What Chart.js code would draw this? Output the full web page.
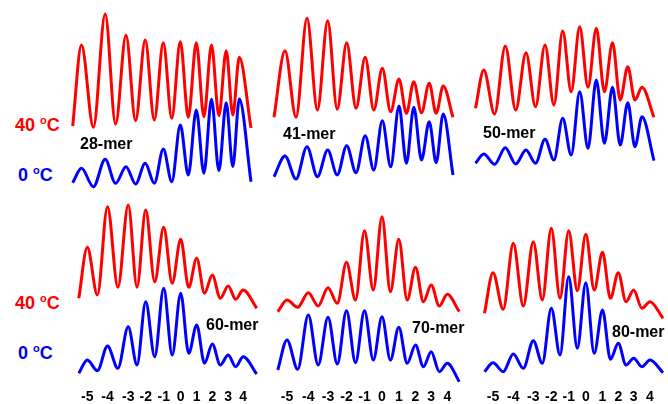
<!DOCTYPE html>
<html>
<head>
<meta charset="utf-8">
<script src="https://cdn.jsdelivr.net/npm/chart.js@4"></script>
<style>
  html, body { margin: 0; padding: 0; background: #fff; }
  body { width: 668px; height: 404px; position: relative; overflow: hidden;
         font-family: "Liberation Sans", Arial, sans-serif; font-weight: bold; }
  canvas { position: absolute; }
  .lab { position: absolute; white-space: nowrap; line-height: 1; transform: translateY(-50%); }
  .temp { font-size: 18px; }
  .mer { font-size: 16px; color: #000; }
  .red { color: #ff0000; }
  .blue { color: #0000ff; }
  .deg { font-size: 11px; position: relative; top: -7px; }
</style>
</head>
<body>
<canvas id="c28"></canvas>
<canvas id="c41"></canvas>
<canvas id="c50"></canvas>
<canvas id="c60"></canvas>
<canvas id="c70"></canvas>
<canvas id="c80"></canvas>

<div class="lab temp red" style="left:15px;top:125px">40 <span class="deg">o</span>C</div>
<div class="lab temp blue" style="left:18px;top:175px">0 <span class="deg">o</span>C</div>
<div class="lab temp red" style="left:15px;top:303px">40 <span class="deg">o</span>C</div>
<div class="lab temp blue" style="left:18px;top:353px">0 <span class="deg">o</span>C</div>
<div class="lab mer" style="left:80px;top:144px">28-mer</div>
<div class="lab mer" style="left:283px;top:134px">41-mer</div>
<div class="lab mer" style="left:483px;top:133px">50-mer</div>
<div class="lab mer" style="left:206px;top:325px">60-mer</div>
<div class="lab mer" style="left:412px;top:328px">70-mer</div>
<div class="lab mer" style="left:612px;top:332px">80-mer</div>

<script>
// Band index labels (peak positions)
const tickLabels = ['-5', '-4', '-3', '-2', '-1', '0', '1', '2', '3', '4'];

// Each trace: start, peak, valley, peak, ..., peak, end  (migration position / intensity)
// 28-mer
const x28    = [2.7, 11.5, 23.4, 35.2, 45.6, 56, 65.6, 75.2, 84.3, 93.3, 101.8, 110.3, 118.3, 126.3, 133.9, 141.5, 148.9, 156.2, 162.8, 169.3, 181];
const red28  = [66, 147, 64.7, 178, 68, 157, 71.3, 152, 72, 149.3, 73.7, 150.3, 74.7, 149.3, 75.3, 147, 76.3, 141.3, 77, 134.7, 64];
const blue28 = [9.3, 23.7, 5.3, 32.7, 8.7, 25.3, 8, 28.7, 8.7, 43, 10.3, 67, 17, 82, 18.7, 92.7, 21.3, 89.3, 25.3, 93, 10.3];
// 41-mer
const x41    = [6, 17, 28, 39, 49.4, 59.7, 69.2, 78.7, 88, 97.2, 105.8, 114.3, 122.7, 131, 138.4, 145.8, 153.5, 161.2, 168.2, 175.2, 185];
const red41  = [74.7, 141.3, 74.7, 173.7, 82, 171.3, 82.7, 149.3, 83.7, 134.7, 82, 123.7, 80.3, 113, 78.7, 110.3, 79.3, 108.7, 78.7, 106, 74.7];
const blue41 = [15.3, 36, 13, 45.3, 15.3, 42, 17, 46.3, 19.3, 56.3, 22, 71.3, 25.3, 86, 28.7, 84.7, 32, 70.3, 29.3, 78, 17];
// 50-mer
const x50    = [5.5, 13.8, 24.6, 35.3, 45.7, 56, 65.5, 75, 83.9, 92.7, 101.2, 109.7, 118, 126.3, 134.4, 142.5, 150.2, 157.8, 164.9, 172, 184];
const red50  = [83.7, 122, 78, 146, 82, 139.3, 85.3, 147, 87, 161, 100.3, 165.3, 104.7, 163.7, 100.3, 149.3, 92, 125.3, 92, 104.7, 74.7];
const blue50 = [28.7, 38, 27.7, 44.3, 28, 42, 28.7, 52.7, 32, 73.7, 37, 100.3, 43.7, 112, 48.7, 104.7, 47, 89.3, 45.3, 75.3, 31.3];
// 60-mer
const x60    = [8.8, 17.3, 27.4, 37.5, 47.9, 58.2, 67, 75.7, 84.7, 93.7, 102.2, 110.7, 118.7, 126.7, 134.5, 142.3, 150.3, 158.2, 165.7, 173.2, 186.7];
const red60  = [86.7, 137.7, 90, 178.3, 97.7, 180, 97.7, 175, 103.3, 157.7, 101.7, 145.7, 97.7, 126.7, 91.7, 110, 86.7, 99, 85.7, 95, 76.7];
const blue60 = [11.7, 25, 14.3, 39, 16.7, 58.3, 20, 83.3, 28.3, 96.7, 30, 91.7, 31.7, 60, 21.7, 41, 20, 30, 18.3, 28.3, 11];
// 70-mer
const x70    = [7.8, 17, 27.7, 38.3, 48.2, 58, 67.3, 76.5, 85.5, 94.5, 103.3, 112, 120.4, 128.8, 137.2, 145.5, 153.4, 161.2, 169.3, 177.3, 189.3];
const red70  = [73.3, 85, 77.7, 92.3, 79, 97.3, 81.7, 122.7, 85, 154.3, 95, 168.3, 93.3, 145.7, 85, 117.7, 83.3, 100, 79, 90.7, 73.3];
const blue70 = [15, 45, 15.7, 70, 20, 67.7, 21, 74.3, 22.3, 74.3, 25, 68.3, 25, 57.7, 21.7, 40, 18.3, 33.3, 13.3, 21.7, 3.3];
// 80-mer
const x80    = [6.5, 15, 25.2, 35.3, 45.3, 55.3, 64.3, 73.3, 82, 90.7, 99.3, 107.8, 116.2, 124.5, 132.4, 140.3, 148, 155.7, 163.9, 172, 185];
const red80  = [71.7, 112.3, 75.7, 141.7, 79, 143.3, 85, 156.7, 86.7, 154.3, 94.3, 150.7, 95, 132.7, 86.7, 112.3, 83.3, 95, 76.7, 83.3, 66.7];
const blue80 = [13.3, 22.3, 13.3, 31, 16.7, 44.3, 21.7, 76.7, 30, 108.3, 36.7, 102.3, 31.7, 75, 25.7, 41.7, 20, 26.7, 18.3, 25, 12.3];

const RED = '#ff0000', BLUE = '#0000ff';

function pts(xs, ys) { return xs.map((x, i) => ({ x: x, y: ys[i] })); }
function peaks(xs) { return xs.filter((v, i) => i % 2 === 1); }

function makePanel(id, left, top, w, h, xs, red, blue, showTicks, yMax) {
  const cv = document.getElementById(id);
  cv.width = w; cv.height = h;
  cv.style.left = left + 'px'; cv.style.top = top + 'px';
  const peakPos = peaks(xs);
  new Chart(cv, {
    type: 'line',
    data: {
      datasets: [
        { data: pts(xs, red), borderColor: RED, borderWidth: 3, cubicInterpolationMode: 'monotone', clip: false, pointRadius: 0, fill: false },
        { data: pts(xs, blue), borderColor: BLUE, borderWidth: 3, cubicInterpolationMode: 'monotone', clip: false, pointRadius: 0, fill: false }
      ]
    },
    options: {
      responsive: false, animation: false, devicePixelRatio: 1,
      layout: { padding: 0 },
      plugins: { legend: { display: false }, tooltip: { enabled: false } },
      scales: {
        x: {
          type: 'linear', min: 0, max: w,
          display: showTicks,
          grid: { display: false, drawTicks: false },
          border: { display: false },
          afterBuildTicks: s => { s.ticks = peakPos.map(v => ({ value: v })); },
          afterFit: s => { s.height = showTicks ? 19 : 0; },
          ticks: {
            autoSkip: false, maxRotation: 0, minRotation: 0, padding: 4,
            color: '#000',
            font: { family: 'Liberation Sans', weight: 'bold', size: 14 },
            callback: (v, i) => tickLabels[i]
          }
        },
        y: { type: 'linear', min: 0, max: yMax, display: false }
      }
    }
  });
}

makePanel('c28', 70, 0, 190, 192, x28, red28, blue28, false, 192);
makePanel('c41', 268, 0, 192, 192, x41, red41, blue41, false, 192);
makePanel('c50', 470, 0, 190, 192, x50, red50, blue50, false, 192);
makePanel('c60', 70, 200, 190, 204, x60, red60, blue60, true, 185);
makePanel('c70', 270, 200, 192, 204, x70, red70, blue70, true, 185);
makePanel('c80', 478, 200, 190, 204, x80, red80, blue80, true, 185);
</script>
</body>
</html>
